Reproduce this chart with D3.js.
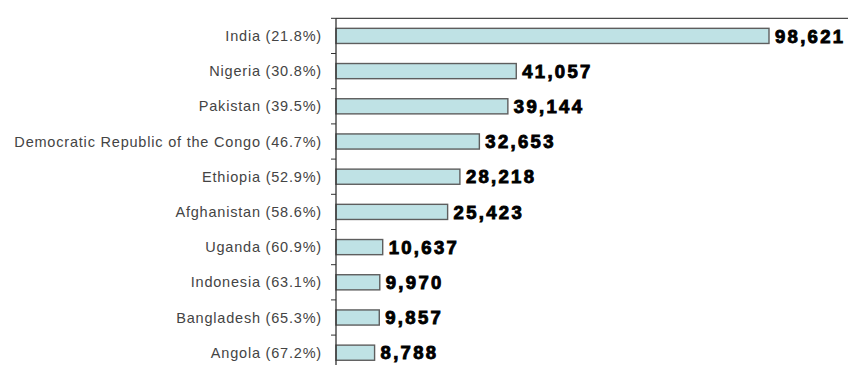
<!DOCTYPE html>
<html>
<head>
<meta charset="utf-8">
<script src="https://cdn.jsdelivr.net/npm/d3@7"></script>
<style>
  html, body { margin: 0; padding: 0; background: #fff; }
  svg { display: block; }
</style>
</head>
<body>
<svg id="chart" width="848" height="365"></svg>
<script>
// Countries with their share (%) shown in the category label
const countries = ["India", "Nigeria", "Pakistan", "Democratic Republic of the Congo",
  "Ethiopia", "Afghanistan", "Uganda", "Indonesia", "Bangladesh", "Angola"];
const shares = [21.8, 30.8, 39.5, 46.7, 52.9, 58.6, 60.9, 63.1, 65.3, 67.2];
const values = [98621, 41057, 39144, 32653, 28218, 25423, 10637, 9970, 9857, 8788];

const W = 848, H = 365;
const plot = { left: 336, right: 769, top: 18.3, bottom: 370.3 };

const svg = d3.select("#chart");

const labels = countries.map((c, i) => `${c} (${shares[i].toFixed(1)}%)`);
const rows = countries.map((c, i) => ({ country: c, label: labels[i], value: values[i] }));

const x = d3.scaleLinear().domain([0, d3.max(values)]).range([plot.left, plot.right]);

// Bars: band scale with padding; grid bands: same step without padding (for tick marks)
const y = d3.scaleBand().domain(countries).range([plot.top, plot.bottom])
  .paddingInner(0.57).paddingOuter(0.285);
const yCell = d3.scaleBand().domain(countries).range([plot.top, plot.bottom]).padding(0);

// Top frame line
svg.append("line")
  .attr("x1", plot.left).attr("x2", W)
  .attr("y1", plot.top).attr("y2", plot.top)
  .attr("stroke", "#4a4a4a").attr("stroke-width", 1.3);

// Bars
svg.append("g").selectAll("rect").data(rows).join("rect")
  .attr("x", x(0))
  .attr("y", d => y(d.country))
  .attr("width", d => x(d.value) - x(0))
  .attr("height", y.bandwidth())
  .attr("fill", "#bfe2e5")
  .attr("stroke", "#5e5e5e")
  .attr("stroke-width", 1.4);

// Category axis line and ticks at band boundaries
svg.append("line")
  .attr("x1", plot.left).attr("x2", plot.left)
  .attr("y1", plot.top).attr("y2", plot.bottom)
  .attr("stroke", "#333").attr("stroke-width", 1.3);

svg.append("g").selectAll("line").data(countries).join("line")
  .attr("x1", plot.left - 5).attr("x2", plot.left)
  .attr("y1", d => yCell(d)).attr("y2", d => yCell(d))
  .attr("stroke", "#333").attr("stroke-width", 1);

// Category labels
svg.append("g").selectAll("text").data(rows).join("text")
  .attr("x", 322)
  .attr("y", d => yCell(d.country) + yCell.bandwidth() / 2)
  .attr("dy", "0.35em")
  .attr("text-anchor", "end")
  .attr("font-family", "'Liberation Sans', Arial, sans-serif")
  .attr("font-size", 14.5)
  .attr("letter-spacing", 0.8)
  .attr("fill", "#444")
  .text(d => d.label);

// Value labels
const fmt = d3.format(",");
svg.append("g").selectAll("text").data(rows).join("text")
  .attr("x", d => x(d.value) + 6)
  .attr("y", d => y(d.country) + y.bandwidth() / 2)
  .attr("dy", "0.36em")
  .attr("font-family", "'Liberation Sans', Arial, sans-serif")
  .attr("font-weight", "bold")
  .attr("font-size", 18.5)
  .attr("letter-spacing", 2.3)
  .attr("fill", "#000")
  .attr("stroke", "#000")
  .attr("stroke-width", 0.9)
  .text(d => fmt(d.value));
</script>
</body>
</html>
